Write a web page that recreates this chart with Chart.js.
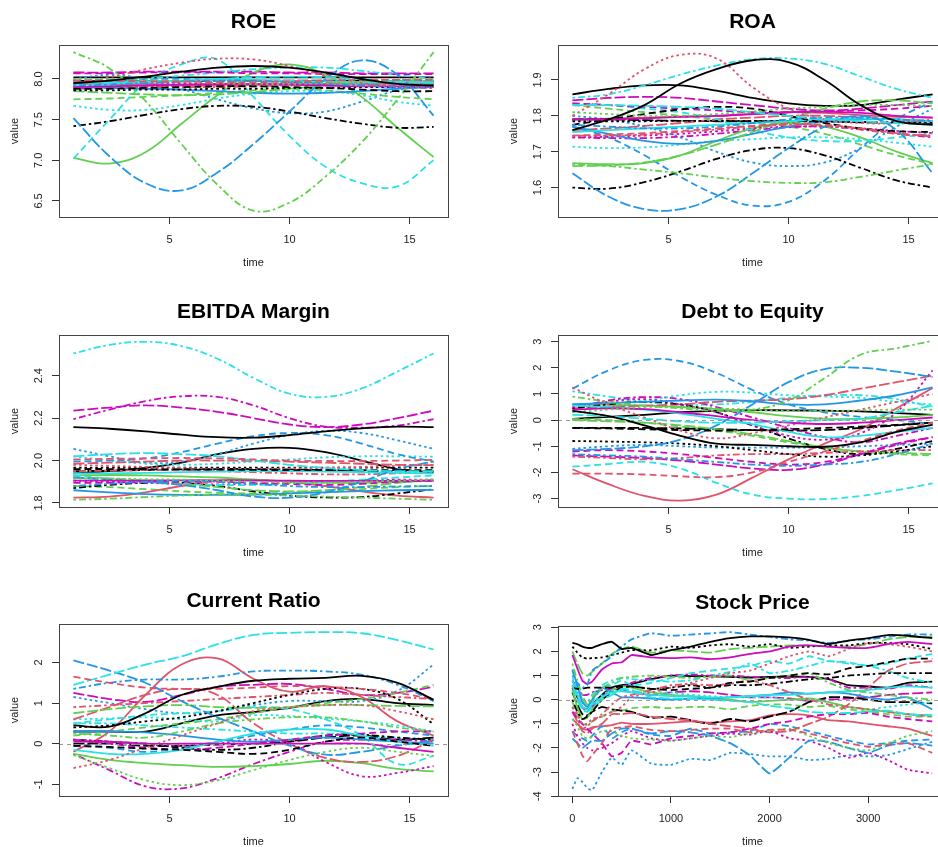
<!DOCTYPE html>
<html>
<head>
<meta charset="utf-8">
<script src="https://cdn.jsdelivr.net/npm/chart.js@4.4.1/dist/chart.umd.min.js"></script>
<style>
  html, body { margin: 0; padding: 0; background: #fff; }
  body { position: relative; width: 938px; height: 847px; overflow: hidden; }
  canvas { position: absolute; }
</style>
</head>
<body>
<canvas id="roe" width="469" height="282" style="left:0;top:0"></canvas>
<canvas id="roa" width="490" height="282" style="left:469px;top:0"></canvas>
<canvas id="ebitda" width="469" height="282" style="left:0;top:290px"></canvas>
<canvas id="debt" width="490" height="282" style="left:469px;top:290px"></canvas>
<canvas id="current" width="469" height="282" style="left:0;top:579px"></canvas>
<canvas id="stock" width="490" height="280" style="left:469px;top:581px"></canvas>
<script>
/* global Chart */

// time grids
const smoothTime = [1, 2.5, 4, 5.5, 7, 8.5, 10, 11.5, 13, 14.5, 16];
const stockTime = [0, 50, 100, 150, 200, 300, 400, 500, 600, 800, 1000, 1200, 1400, 1600, 1800, 2000, 2200, 2400, 2600, 2800, 3000, 3200, 3400, 3650];

// tick labels
const smoothXTicks = [5, 10, 15];
const stockXTicks = [0, 1000, 2000, 3000];
const roeYTicks = ["6.5", "7.0", "7.5", "8.0"];
const roaYTicks = ["1.6", "1.7", "1.8", "1.9"];
const ebitdaYTicks = ["1.8", "2.0", "2.2", "2.4"];
const debtYTicks = ["-3", "-2", "-1", "0", "1", "2", "3"];
const currentYTicks = ["-1", "0", "1", "2"];
const stockYTicks = ["-4", "-3", "-2", "-1", "0", "1", "2", "3"];

// one row per company, values at smoothTime
const roeValues = [
  [7.95, 7.98, 8.03, 8.09, 8.14, 8.16, 8.14, 8.08, 8.00, 7.94, 7.92],
  [7.98, 7.98, 7.97, 7.97, 7.96, 7.96, 7.97, 7.98, 7.99, 7.99, 7.99],
  [8.00, 8.00, 7.99, 7.97, 7.95, 7.94, 7.94, 7.95, 7.97, 7.99, 8.00],
  [7.92, 7.93, 7.95, 7.97, 7.98, 7.98, 7.96, 7.94, 7.92, 7.91, 7.92],
  [7.93, 7.94, 7.96, 7.98, 8.00, 8.02, 8.03, 8.02, 8.00, 7.97, 7.95],
  [7.90, 7.91, 7.92, 7.93, 7.94, 7.94, 7.93, 7.92, 7.91, 7.91, 7.92],
  [7.88, 7.88, 7.89, 7.90, 7.91, 7.91, 7.90, 7.89, 7.87, 7.85, 7.85],
  [7.95, 8.02, 8.12, 8.20, 8.25, 8.24, 8.16, 8.04, 7.95, 7.90, 7.90],
  [8.33, 8.13, 7.73, 7.20, 6.70, 6.38, 6.48, 6.80, 7.22, 7.75, 8.33],
  [7.52, 7.05, 6.72, 6.63, 6.85, 7.20, 7.60, 8.00, 8.23, 8.05, 7.55],
  [7.96, 7.96, 7.97, 7.98, 7.99, 7.99, 7.98, 7.97, 7.96, 7.96, 7.96],
  [8.07, 8.07, 8.08, 8.08, 8.08, 8.07, 8.07, 8.06, 8.06, 8.06, 8.06],
  [7.86, 7.86, 7.87, 7.87, 7.88, 7.88, 7.89, 7.89, 7.90, 7.90, 7.90],
  [7.91, 7.91, 7.90, 7.90, 7.90, 7.91, 7.92, 7.93, 7.93, 7.92, 7.91],
  [7.85, 7.83, 7.81, 7.80, 7.81, 7.84, 7.88, 7.92, 7.95, 7.97, 7.98],
  [7.90, 7.89, 7.88, 7.87, 7.85, 7.83, 7.82, 7.83, 7.85, 7.88, 7.90],
  [7.02, 7.50, 7.95, 8.18, 8.24, 7.78, 7.30, 6.92, 6.72, 6.68, 7.00],
  [7.97, 7.97, 7.96, 7.95, 7.94, 7.94, 7.95, 7.96, 7.97, 7.98, 7.98],
  [7.42, 7.48, 7.56, 7.63, 7.67, 7.66, 7.60, 7.52, 7.45, 7.40, 7.41],
  [7.93, 7.93, 7.92, 7.92, 7.92, 7.93, 7.94, 7.95, 7.95, 7.95, 7.94],
  [7.03, 6.96, 7.10, 7.45, 7.80, 8.08, 8.18, 8.05, 7.78, 7.40, 7.04],
  [7.98, 7.99, 8.00, 8.00, 7.99, 7.98, 7.97, 7.96, 7.96, 7.97, 7.98],
  [7.67, 7.62, 7.62, 7.68, 7.76, 7.82, 7.85, 7.85, 7.80, 7.72, 7.67],
  [7.88, 7.89, 7.90, 7.92, 7.93, 7.94, 7.94, 7.93, 7.92, 7.90, 7.89],
  [7.98, 7.97, 7.97, 7.97, 7.98, 7.98, 7.98, 7.98, 7.98, 7.97, 7.97],
  [7.94, 7.94, 7.94, 7.93, 7.93, 7.93, 7.93, 7.94, 7.94, 7.94, 7.94],
  [7.75, 7.76, 7.78, 7.80, 7.83, 7.86, 7.88, 7.86, 7.82, 7.78, 7.75],
  [8.00, 8.05, 8.00, 7.88, 7.75, 7.64, 7.58, 7.60, 7.72, 7.86, 7.92],
  [7.95, 7.97, 8.00, 8.04, 8.08, 8.12, 8.14, 8.14, 8.10, 8.05, 8.00],
  [8.08, 8.08, 8.09, 8.09, 8.09, 8.09, 8.08, 8.08, 8.07, 8.07, 8.07],
  [8.02, 8.02, 8.02, 8.02, 8.02, 8.02, 8.02, 8.02, 8.02, 8.02, 8.02],
];

const roaValues = [
  [1.760, 1.790, 1.830, 1.890, 1.930, 1.955, 1.950, 1.900, 1.830, 1.785, 1.775],
  [1.745, 1.748, 1.752, 1.758, 1.765, 1.772, 1.778, 1.775, 1.765, 1.752, 1.742],
  [1.810, 1.805, 1.800, 1.800, 1.805, 1.812, 1.820, 1.825, 1.830, 1.830, 1.828],
  [1.775, 1.770, 1.765, 1.765, 1.770, 1.780, 1.790, 1.795, 1.795, 1.790, 1.785],
  [1.830, 1.830, 1.828, 1.825, 1.820, 1.810, 1.800, 1.790, 1.785, 1.780, 1.775],
  [1.790, 1.790, 1.793, 1.797, 1.800, 1.805, 1.810, 1.812, 1.808, 1.800, 1.795],
  [1.775, 1.790, 1.805, 1.818, 1.825, 1.820, 1.800, 1.780, 1.765, 1.757, 1.755],
  [1.800, 1.860, 1.930, 1.970, 1.960, 1.880, 1.820, 1.790, 1.780, 1.780, 1.790],
  [1.665, 1.660, 1.650, 1.640, 1.628, 1.618, 1.613, 1.615, 1.630, 1.648, 1.665],
  [1.640, 1.575, 1.540, 1.540, 1.575, 1.640, 1.710, 1.770, 1.800, 1.760, 1.640],
  [1.755, 1.760, 1.765, 1.770, 1.775, 1.780, 1.785, 1.790, 1.792, 1.790, 1.785],
  [1.835, 1.830, 1.825, 1.820, 1.815, 1.810, 1.810, 1.812, 1.815, 1.820, 1.828],
  [1.785, 1.785, 1.785, 1.786, 1.786, 1.786, 1.785, 1.784, 1.783, 1.782, 1.782],
  [1.745, 1.745, 1.748, 1.755, 1.762, 1.770, 1.775, 1.772, 1.762, 1.750, 1.745],
  [1.660, 1.662, 1.670, 1.690, 1.720, 1.755, 1.790, 1.820, 1.840, 1.843, 1.835],
  [1.770, 1.750, 1.730, 1.722, 1.730, 1.750, 1.770, 1.785, 1.790, 1.790, 1.785],
  [1.835, 1.830, 1.820, 1.810, 1.790, 1.760, 1.740, 1.730, 1.730, 1.740, 1.750],
  [1.740, 1.742, 1.745, 1.750, 1.757, 1.765, 1.770, 1.770, 1.765, 1.758, 1.752],
  [1.600, 1.597, 1.615, 1.645, 1.680, 1.705, 1.710, 1.690, 1.655, 1.620, 1.600],
  [1.760, 1.765, 1.772, 1.780, 1.790, 1.795, 1.800, 1.800, 1.795, 1.790, 1.785],
  [1.668, 1.665, 1.668, 1.690, 1.730, 1.765, 1.780, 1.770, 1.740, 1.700, 1.668],
  [1.770, 1.740, 1.690, 1.630, 1.580, 1.550, 1.560, 1.620, 1.710, 1.790, 1.840],
  [1.714, 1.710, 1.712, 1.720, 1.730, 1.735, 1.740, 1.740, 1.735, 1.725, 1.714],
  [1.740, 1.738, 1.738, 1.742, 1.750, 1.760, 1.768, 1.770, 1.762, 1.750, 1.740],
  [1.790, 1.790, 1.788, 1.786, 1.785, 1.785, 1.785, 1.785, 1.782, 1.780, 1.778],
  [1.790, 1.792, 1.795, 1.798, 1.800, 1.805, 1.810, 1.808, 1.802, 1.797, 1.795],
  [1.830, 1.820, 1.810, 1.800, 1.790, 1.780, 1.770, 1.750, 1.720, 1.690, 1.665],
  [1.800, 1.790, 1.770, 1.740, 1.700, 1.670, 1.660, 1.670, 1.710, 1.770, 1.820],
  [1.850, 1.860, 1.885, 1.915, 1.940, 1.958, 1.960, 1.945, 1.910, 1.875, 1.850],
  [1.843, 1.850, 1.853, 1.850, 1.840, 1.830, 1.820, 1.815, 1.820, 1.830, 1.840],
  [1.860, 1.875, 1.885, 1.885, 1.870, 1.850, 1.835, 1.828, 1.830, 1.845, 1.860],
];

const ebitdaValues = [
  [2.158, 2.150, 2.138, 2.122, 2.110, 2.108, 2.120, 2.138, 2.152, 2.160, 2.158],
  [2.005, 2.008, 2.010, 2.012, 2.010, 2.005, 2.000, 1.998, 1.998, 2.000, 2.003],
  [1.915, 1.915, 1.912, 1.910, 1.905, 1.900, 1.895, 1.895, 1.900, 1.905, 1.910],
  [1.880, 1.890, 1.900, 1.905, 1.900, 1.890, 1.880, 1.875, 1.875, 1.878, 1.880],
  [2.020, 2.030, 2.035, 2.030, 2.020, 2.000, 1.980, 1.965, 1.955, 1.950, 1.950],
  [1.905, 1.905, 1.906, 1.907, 1.907, 1.906, 1.905, 1.904, 1.904, 1.905, 1.905],
  [1.960, 1.960, 1.959, 1.958, 1.957, 1.956, 1.955, 1.955, 1.955, 1.955, 1.955],
  [1.980, 1.975, 1.970, 1.965, 1.960, 1.960, 1.962, 1.965, 1.970, 1.975, 1.980],
  [1.815, 1.820, 1.828, 1.835, 1.840, 1.840, 1.835, 1.830, 1.825, 1.820, 1.815],
  [1.920, 1.910, 1.900, 1.885, 1.860, 1.830, 1.825, 1.850, 1.900, 1.960, 1.995],
  [1.940, 1.940, 1.942, 1.945, 1.948, 1.950, 1.950, 1.948, 1.945, 1.942, 1.940],
  [1.895, 1.895, 1.900, 1.900, 1.900, 1.895, 1.890, 1.885, 1.890, 1.900, 1.905],
  [1.967, 1.967, 1.967, 1.967, 1.967, 1.967, 1.967, 1.967, 1.967, 1.967, 1.967],
  [1.950, 1.952, 1.955, 1.955, 1.950, 1.945, 1.940, 1.935, 1.935, 1.940, 1.945],
  [1.920, 1.915, 1.905, 1.890, 1.875, 1.860, 1.855, 1.860, 1.875, 1.895, 1.910],
  [1.860, 1.850, 1.842, 1.838, 1.838, 1.840, 1.845, 1.850, 1.856, 1.860, 1.862],
  [1.930, 1.915, 1.900, 1.890, 1.885, 1.885, 1.890, 1.900, 1.910, 1.920, 1.930],
  [1.905, 1.900, 1.895, 1.890, 1.888, 1.890, 1.895, 1.900, 1.905, 1.910, 1.910],
  [1.870, 1.885, 1.895, 1.895, 1.880, 1.855, 1.835, 1.826, 1.828, 1.845, 1.865],
  [1.985, 1.990, 1.995, 2.000, 2.000, 1.998, 1.995, 1.990, 1.985, 1.980, 1.978],
  [1.930, 1.932, 1.930, 1.925, 1.920, 1.910, 1.900, 1.895, 1.895, 1.900, 1.905],
  [1.995, 2.000, 2.010, 2.040, 2.080, 2.115, 2.130, 2.120, 2.080, 2.030, 1.995],
  [2.020, 2.000, 1.985, 1.980, 1.985, 1.995, 2.005, 2.015, 2.020, 2.020, 2.018],
  [2.195, 2.240, 2.280, 2.303, 2.300, 2.260, 2.200, 2.160, 2.155, 2.165, 2.195],
  [1.950, 1.952, 1.955, 1.958, 1.960, 1.960, 1.958, 1.955, 1.952, 1.950, 1.950],
  [1.825, 1.830, 1.850, 1.880, 1.905, 1.910, 1.900, 1.880, 1.855, 1.835, 1.825],
  [1.880, 1.875, 1.865, 1.855, 1.848, 1.845, 1.848, 1.855, 1.865, 1.875, 1.880],
  [2.055, 2.020, 1.990, 1.995, 2.030, 2.080, 2.120, 2.140, 2.130, 2.095, 2.055],
  [2.505, 2.545, 2.560, 2.540, 2.480, 2.390, 2.315, 2.300, 2.340, 2.420, 2.505],
  [2.235, 2.250, 2.260, 2.250, 2.230, 2.200, 2.170, 2.158, 2.170, 2.200, 2.235],
  [1.940, 1.950, 1.965, 1.990, 2.030, 2.055, 2.060, 2.040, 2.000, 1.960, 1.945],
];

const debtValues = [
  [0.35, 0.15, -0.20, -0.60, -0.90, -0.95, -1.00, -1.02, -0.85, -0.45, -0.18],
  [-2.05, -2.05, -2.08, -2.15, -2.18, -2.00, -1.60, -1.20, -0.80, -0.40, -0.10],
  [0.30, 0.40, 0.50, 0.50, 0.45, 0.40, 0.35, 0.35, 0.37, 0.40, 0.40],
  [-1.30, -1.35, -1.40, -1.50, -1.60, -1.70, -1.75, -1.70, -1.60, -1.30, -0.90],
  [0.20, 0.15, 0.05, -0.05, -0.10, -0.10, -0.05, 0.00, 0.05, 0.30, 0.55],
  [0.40, 0.45, 0.42, 0.30, 0.15, 0.00, -0.10, -0.15, -0.10, 0.00, 0.10],
  [-0.30, -0.32, -0.35, -0.38, -0.40, -0.38, -0.35, -0.30, -0.25, -0.18, -0.10],
  [1.25, 0.60, 0.10, -0.40, -0.70, -0.50, -0.20, 0.10, 0.40, 0.70, 1.00],
  [0.90, 0.70, 0.55, 0.45, 0.35, 0.40, 0.75, 1.60, 2.50, 2.75, 3.03],
  [-1.15, -1.10, -1.00, -0.75, -0.20, 0.60, 1.45, 1.95, 2.00, 1.85, 1.65],
  [0.55, 0.50, 0.40, 0.25, 0.05, -0.15, -0.45, -0.65, -0.60, -0.45, -0.30],
  [-1.20, -1.15, -1.20, -1.30, -1.45, -1.60, -1.70, -1.60, -1.30, -0.95, -0.65],
  [-0.80, -0.82, -0.85, -0.90, -1.00, -1.15, -1.30, -1.40, -1.35, -1.20, -1.00],
  [-1.40, -1.45, -1.50, -1.45, -1.35, -1.30, -1.30, -1.25, -1.20, -1.15, -1.15],
  [0.00, -0.05, -0.10, -0.20, -0.35, -0.55, -0.80, -1.05, -1.20, -1.25, -1.30],
  [0.60, 0.65, 0.70, 0.75, 0.78, 0.72, 0.60, 0.60, 0.75, 0.95, 1.25],
  [-1.78, -1.68, -1.60, -1.85, -2.40, -2.85, -3.00, -3.02, -2.90, -2.68, -2.42],
  [0.50, 0.70, 0.80, 0.60, 0.30, -0.20, -0.60, -0.75, -0.50, 0.30, 1.90],
  [0.45, 0.60, 0.70, 0.60, 0.30, -0.20, -0.70, -1.10, -1.30, -1.10, -0.80],
  [0.45, 0.50, 0.55, 0.60, 0.70, 0.75, 0.80, 0.95, 1.20, 1.45, 1.70],
  [0.60, 0.58, 0.55, 0.50, 0.42, 0.30, 0.15, 0.05, 0.05, 0.10, 0.20],
  [1.20, 1.90, 2.30, 2.25, 1.80, 1.15, 0.60, 0.30, 0.12, 0.00, -0.15],
  [0.60, 0.65, 0.75, 0.95, 1.08, 1.05, 0.95, 0.90, 0.85, 0.70, 0.60],
  [0.45, 0.75, 0.88, 0.80, 0.50, 0.10, -0.30, -0.65, -0.85, -0.60, -0.30],
  [-0.30, -0.30, -0.30, -0.32, -0.35, -0.38, -0.40, -0.38, -0.30, -0.20, -0.10],
  [-1.88, -2.45, -2.90, -3.08, -2.85, -2.20, -1.50, -0.90, -0.35, 0.45, 1.23],
  [0.05, 0.00, -0.10, -0.25, -0.40, -0.60, -0.85, -1.05, -1.20, -1.30, -1.35],
  [-1.10, -1.00, -0.95, -1.00, -1.05, -1.05, -1.05, -1.05, -1.00, -0.95, -0.90],
  [1.10, 0.90, 0.70, 0.60, 0.60, 0.70, 0.85, 0.95, 0.95, 0.80, 0.50],
  [-1.35, -1.40, -1.45, -1.55, -1.70, -1.85, -1.90, -1.70, -1.30, -0.90, -0.65],
  [0.05, 0.12, 0.20, 0.30, 0.35, 0.38, 0.37, 0.36, 0.33, 0.27, 0.20],
];

const currentValues = [
  [0.45, 0.42, 0.75, 1.20, 1.40, 1.55, 1.60, 1.62, 1.67, 1.50, 1.08],
  [1.65, 1.50, 1.38, 1.35, 1.35, 1.38, 1.42, 1.40, 1.35, 1.25, 1.10],
  [-0.28, -0.60, -0.90, -1.02, -0.90, -0.65, -0.40, -0.20, -0.10, -0.20, -0.30],
  [1.35, 1.50, 1.58, 1.58, 1.65, 1.78, 1.80, 1.78, 1.70, 1.45, 1.05],
  [1.45, 1.70, 1.95, 2.15, 2.45, 2.68, 2.73, 2.75, 2.72, 2.55, 2.32],
  [0.05, 0.05, 0.00, 0.00, 0.00, 0.00, 0.00, 0.00, 0.00, -0.10, -0.20],
  [-0.05, -0.08, -0.12, -0.15, -0.20, -0.25, -0.15, 0.05, 0.15, 0.05, -0.05],
  [-0.60, -0.40, -0.10, 0.20, 0.50, 0.80, 0.90, 0.95, 0.95, 0.80, 0.60],
  [0.25, 0.20, 0.15, 0.30, 0.50, 0.60, 0.65, 0.65, 0.55, 0.40, 0.30],
  [2.05, 1.80, 1.50, 1.05, 0.65, 0.30, -0.05, -0.27, -0.20, -0.05, 0.08],
  [-0.15, -0.25, -0.25, -0.15, 0.05, 0.25, 0.35, 0.35, 0.20, 0.05, -0.05],
  [0.10, 0.00, -0.10, -0.15, -0.10, 0.00, 0.10, 0.20, 0.25, 0.30, 0.30],
  [0.40, 0.45, 0.55, 0.65, 0.80, 1.00, 1.20, 1.35, 1.35, 1.10, 0.48],
  [0.90, 0.95, 1.00, 1.05, 1.10, 1.15, 1.20, 1.25, 1.20, 1.15, 1.10],
  [0.75, 0.85, 0.92, 0.95, 0.90, 0.88, 0.90, 0.95, 0.95, 0.93, 0.92],
  [0.30, 0.30, 0.28, 0.20, 0.10, 0.05, 0.10, 0.15, 0.10, 0.05, 0.00],
  [0.50, 0.60, 0.70, 0.75, 0.80, 0.90, 0.85, 0.60, 0.20, -0.50, -0.30],
  [0.10, 0.05, 0.00, -0.05, 0.00, 0.10, 0.00, -0.45, -0.80, -0.72, -0.55],
  [0.10, 0.05, 0.00, -0.10, -0.15, -0.10, 0.05, 0.20, 0.22, 0.15, 0.10],
  [0.60, 0.90, 1.20, 1.35, 1.20, 0.50, 0.00, -0.35, -0.45, -0.30, 0.10],
  [-0.25, -0.40, -0.48, -0.53, -0.57, -0.55, -0.50, -0.42, -0.48, -0.62, -0.68],
  [-0.05, -0.10, -0.20, -0.10, 0.05, 0.20, 0.35, 0.45, 0.40, 0.30, 0.20],
  [0.60, 0.62, 0.65, 0.60, 0.55, 0.70, 0.68, 0.62, 0.55, 0.45, 0.30],
  [-0.25, -0.65, -1.05, -1.10, -0.85, -0.50, -0.20, 0.05, 0.10, 0.10, 0.05],
  [0.00, 0.00, -0.05, -0.05, -0.02, 0.00, 0.05, 0.15, 0.20, 0.10, 0.15],
  [-0.20, 0.30, 1.20, 1.95, 2.10, 1.60, 1.28, 1.42, 1.15, 0.55, 0.20],
  [0.20, 0.30, 0.40, 0.50, 0.60, 0.75, 0.90, 1.00, 1.10, 1.25, 1.45],
  [1.15, 1.00, 0.85, 0.75, 0.80, 0.95, 1.05, 1.05, 1.05, 1.30, 1.95],
  [0.50, 0.50, 0.45, 0.40, 0.35, 0.30, 0.25, 0.25, 0.20, 0.15, 0.10],
  [1.25, 1.10, 1.03, 1.20, 1.40, 1.45, 1.47, 1.35, 1.20, 1.25, 1.40],
  [0.30, 0.30, 0.30, 0.50, 0.70, 0.78, 0.88, 1.05, 1.10, 1.00, 0.95],
];

// values at stockTime
const stockValues = [
  [2.35, 2.30, 2.20, 2.15, 2.15, 2.30, 2.40, 2.10, 2.15, 1.85, 2.05, 2.20, 2.40, 2.55, 2.62, 2.62, 2.58, 2.48, 2.30, 2.45, 2.55, 2.68, 2.65, 2.55],
  [-1.30, -1.80, -2.30, -2.55, -2.30, -1.80, -1.20, -1.15, -1.10, -1.25, -1.30, -1.25, -1.20, -1.20, -1.35, -1.25, -1.25, -1.40, -1.60, -1.80, -1.95, -1.85, -1.80, -2.20],
  [-0.80, -1.10, -1.50, -1.60, -1.55, -1.30, -1.30, -1.50, -1.60, -1.65, -1.70, -1.60, -1.50, -1.55, -1.40, -1.30, -1.20, -1.50, -1.80, -2.00, -2.10, -1.80, -1.50, -1.30],
  [1.00, 0.70, 0.50, 0.60, 1.20, 1.50, 1.80, 2.20, 2.50, 2.75, 2.65, 2.70, 2.75, 2.80, 2.70, 2.60, 2.50, 2.45, 2.35, 2.45, 2.50, 2.60, 2.70, 2.70],
  [0.60, 0.00, -0.40, -0.50, -0.30, 0.00, 0.20, 0.45, 0.40, 0.10, 0.05, 0.05, 0.00, -0.05, -0.10, -0.25, -0.35, -0.50, -0.55, -0.55, -0.50, -0.45, -0.60, -0.65],
  [1.85, 1.30, 0.80, 0.65, 0.75, 1.25, 1.50, 1.55, 1.85, 1.75, 1.72, 1.75, 1.68, 1.75, 1.90, 2.00, 2.20, 2.25, 2.20, 2.15, 2.15, 2.30, 2.40, 2.30],
  [0.50, 0.45, 0.45, 0.50, 0.50, 0.50, 0.50, 0.55, 0.55, 0.45, 0.40, 0.45, 0.50, 0.70, 0.75, 0.90, 1.00, 1.10, 1.05, 1.30, 1.40, 1.55, 1.70, 1.70],
  [-0.30, -0.60, -1.00, -1.00, -0.80, -0.70, -0.50, -0.30, 0.10, 0.30, 0.50, 0.70, 0.90, 1.10, 1.20, 1.50, 1.80, 2.00, 1.80, 2.10, 2.35, 2.30, 2.20, 2.00],
  [1.50, 0.80, 0.20, -0.20, 0.10, 0.50, 0.70, 0.90, 0.95, 1.00, 0.95, 0.90, 0.95, 1.00, 0.80, 0.90, 1.00, 1.10, 0.70, 0.40, 0.30, 0.20, 0.10, 0.00],
  [-1.60, -1.80, -2.00, -1.85, -1.70, -1.70, -1.40, -1.20, -1.20, -1.40, -1.30, -1.35, -1.50, -1.80, -2.30, -3.05, -2.40, -1.70, -1.75, -2.00, -2.20, -1.90, -1.80, -1.90],
  [0.80, 0.20, -0.30, -0.40, -0.20, 0.10, 0.30, 0.35, 0.30, 0.20, 0.15, 0.15, 0.10, 0.10, 0.15, 0.20, 0.20, 0.25, 0.30, 0.35, 0.40, 0.50, 0.55, 0.50],
  [-0.50, -0.80, -1.00, -1.20, -1.40, -1.80, -2.35, -2.20, -1.70, -1.85, -1.60, -1.50, -1.40, -1.35, -1.20, -1.00, -0.90, -0.70, -0.60, -0.60, -0.55, -0.70, -0.80, -0.90],
  [2.20, 1.95, 1.75, 1.70, 1.72, 1.75, 1.85, 1.95, 2.05, 2.05, 2.20, 2.15, 2.25, 2.30, 2.20, 2.30, 2.15, 2.20, 2.25, 2.25, 2.35, 2.35, 2.30, 2.10],
  [-0.30, -0.80, -1.20, -1.10, -0.90, -0.60, -0.20, 0.10, 0.20, 0.40, 0.60, 0.65, 0.60, 0.65, 0.80, 0.60, 0.30, 0.00, -0.20, -0.30, -0.40, -0.50, -0.60, -0.70],
  [2.00, 1.50, 1.10, 1.00, 1.15, 1.50, 1.90, 2.10, 2.20, 1.95, 2.05, 2.00, 1.95, 2.10, 2.15, 2.20, 2.25, 2.25, 2.20, 2.20, 2.30, 2.50, 2.60, 2.60],
  [1.25, 0.60, -0.10, -0.30, 0.00, 0.50, 0.30, 0.10, 0.10, 0.05, 0.00, 0.05, 0.05, 0.10, 0.15, 0.20, 0.30, 0.25, 0.30, 0.25, 0.10, 0.00, 0.10, -0.40],
  [1.20, 0.60, 0.00, -0.30, -0.10, 0.50, 0.60, 0.80, 0.60, 0.70, 0.90, 1.10, 1.20, 1.30, 1.40, 1.60, 1.50, 1.80, 1.60, 1.55, 1.40, 1.50, 1.70, 1.90],
  [-1.00, -1.50, -1.80, -2.00, -2.10, -2.00, -1.80, -1.50, -1.30, -1.60, -1.70, -1.60, -1.50, -1.40, -1.45, -1.30, -1.60, -1.70, -2.00, -2.40, -2.20, -2.50, -2.90, -3.05],
  [0.00, -0.50, -0.80, -0.70, -0.50, 0.00, 0.30, 0.50, 0.55, 0.45, 0.50, 0.60, 0.50, 0.60, 0.60, 0.65, 0.75, 0.85, 0.90, 1.00, 1.05, 1.10, 1.10, 1.10],
  [-0.50, -0.90, -1.30, -1.40, -1.20, -1.00, -0.60, -0.60, -0.55, -0.70, -0.80, -0.85, -1.00, -1.10, -1.20, -1.35, -1.30, -1.00, -0.70, -0.20, 0.50, 1.20, 1.50, 1.60],
  [0.40, -0.30, -0.80, -0.75, -0.40, 0.00, 0.40, 0.55, 0.50, 0.30, 0.20, 0.15, 0.05, 0.00, -0.10, -0.05, 0.00, 0.05, -0.10, -0.30, -0.40, -0.50, -0.60, -0.65],
  [-1.30, -1.50, -1.60, -1.70, -1.50, -1.10, -1.60, -1.35, -1.20, -1.45, -1.50, -1.20, -1.40, -1.35, -1.30, -1.00, -1.10, -1.30, -1.50, -1.70, -1.85, -1.80, -1.70, -1.65],
  [0.50, 0.30, 0.00, -0.20, -0.10, 0.20, 0.40, 0.40, 0.35, 0.30, 0.30, 0.20, 0.15, 0.10, 0.10, 0.10, 0.00, 0.00, -0.10, -0.30, -0.40, -0.30, -0.20, -0.10],
  [0.60, 0.20, -0.30, -0.50, -0.30, 0.10, 0.40, 0.50, 0.70, 0.90, 1.00, 1.05, 1.00, 1.00, 0.95, 0.90, 0.90, 0.95, 0.85, 0.50, 0.50, 0.45, 0.60, 0.50],
  [0.30, -0.20, -0.60, -0.65, -0.50, -0.30, -0.40, -0.45, -0.50, -0.75, -0.70, -0.85, -1.00, -0.80, -0.90, -0.70, -0.50, -0.10, 0.10, 0.10, 0.00, -0.10, -0.10, -0.15],
  [-0.80, -1.00, -1.20, -1.25, -1.15, -1.10, -1.05, -0.95, -1.00, -1.00, -0.95, -0.90, -0.95, -0.90, -0.85, -0.65, -0.60, -0.65, -0.85, -0.90, -1.00, -1.10, -1.20, -1.50],
  [-0.10, -0.60, -1.00, -1.05, -0.90, -0.70, -0.50, -0.45, -0.35, -0.30, -0.35, -0.30, -0.30, -0.40, -0.25, -0.20, -0.20, -0.30, -0.25, -0.40, -0.50, -0.60, -0.70, -0.70],
  [-3.70, -3.25, -3.40, -3.65, -3.75, -3.00, -2.40, -2.70, -2.10, -2.65, -2.70, -2.45, -2.50, -2.20, -2.25, -2.35, -2.35, -2.50, -2.45, -2.30, -2.35, -2.30, -2.05, -1.75],
  [0.90, 0.50, 0.00, -0.10, 0.20, 0.60, 0.80, 0.90, 0.85, 0.80, 0.75, 0.80, 1.00, 1.15, 1.50, 1.10, 1.20, 1.40, 1.60, 1.50, 1.40, 1.20, 0.90, 0.70],
  [0.80, 0.50, 0.20, 0.20, 0.30, 0.40, 0.45, 0.40, 0.30, 0.20, 0.30, 0.35, 0.30, 0.20, 0.10, 0.10, 0.05, -0.05, 0.00, 0.05, 0.10, 0.20, 0.25, 0.30],
  [0.50, 0.10, -0.30, -0.40, -0.20, 0.20, 0.50, 0.60, 0.65, 0.85, 1.00, 0.98, 0.97, 0.95, 0.92, 0.95, 0.95, 0.95, 0.85, 0.60, 0.55, 0.50, 0.70, 0.75],
];

// R matplot style cycle: col = 1:6, lty = 1:5
const lineColors = ["#000000", "#DF536B", "#61D04F", "#2297E6", "#28E2E5", "#CD0BBC"];
const lineDashes = [[], [7, 4], [2.5, 3], [2.5, 3, 7, 3], [11, 3]];

const FONT = "'Liberation Sans', Arial, Helvetica, sans-serif";
Chart.defaults.font.family = FONT;
Chart.defaults.color = "#222";

// box, rotated y labels and the dashed zero line
const panelDecor = {
  id: "panelDecor",
  afterDatasetsDraw(chart, args, opts) {
    if (!opts.zeroLine) return;
    const { ctx, chartArea: a } = chart;
    const y0 = Math.round(chart.scales.y.getPixelForValue(0)) + 0.5;
    ctx.save();
    ctx.strokeStyle = "#999";
    ctx.lineWidth = 1;
    ctx.setLineDash([4, 4]);
    ctx.beginPath();
    ctx.moveTo(a.left, y0);
    ctx.lineTo(a.right, y0);
    ctx.stroke();
    ctx.restore();
  },
  afterDraw(chart, args, opts) {
    const { ctx, chartArea: a } = chart;
    const ys = chart.scales.y;
    ctx.save();
    ctx.strokeStyle = "#444";
    ctx.lineWidth = 1;
    ctx.strokeRect(Math.round(a.left) + 0.5, Math.round(a.top) + 0.5, Math.round(a.width), Math.round(a.height));
    ctx.fillStyle = "#222";
    ctx.font = `11px ${FONT}`;
    ctx.textAlign = "center";
    ctx.textBaseline = "middle";
    for (const lab of opts.yLabels || []) {
      ctx.save();
      ctx.translate(a.left - 20, ys.getPixelForValue(parseFloat(lab)));
      ctx.rotate(-Math.PI / 2);
      ctx.fillText(lab, 0, 0);
      ctx.restore();
    }
    ctx.restore();
  },
};

function toDatasets(times, rows, tension) {
  return rows.map((vals, i) => ({
    data: vals.map((v, k) => ({ x: times[k], y: v })),
    borderColor: lineColors[i % 6],
    borderDash: lineDashes[i % 5],
    borderWidth: 1.8,
    pointRadius: 0,
    fill: false,
    tension: tension,
  }));
}

function makePanel(id, p) {
  const axisGrid = { display: true, drawOnChartArea: false, drawTicks: true, tickLength: 7, color: "#333", lineWidth: 1 };
  return new Chart(document.getElementById(id), {
    type: "line",
    data: { datasets: toDatasets(p.times, p.rows, p.tension) },
    options: {
      responsive: false,
      animation: false,
      layout: { autoPadding: false, padding: { left: p.padLeft, right: p.padRight, top: 0, bottom: 0 } },
      plugins: {
        legend: { display: false },
        tooltip: { enabled: false },
        title: {
          display: true,
          text: p.title,
          fullSize: false,
          color: "#000",
          font: { size: 21, weight: "bold", lineHeight: "24px" },
          padding: { top: 10, bottom: 11 },
        },
        panelDecor: { yLabels: p.yTicks, zeroLine: p.zeroLine },
      },
      scales: {
        x: {
          type: "linear",
          min: p.xMin,
          max: p.xMax,
          afterBuildTicks: (s) => { s.ticks = p.xTicks.map((v) => ({ value: v })); },
          afterFit: (s) => { s.height = 65; },
          grid: axisGrid,
          border: { display: false },
          ticks: { font: { size: 11 }, color: "#222", padding: 9, maxRotation: 0, autoSkip: false, callback: (v) => String(v) },
          title: { display: true, text: "time", font: { size: 11 }, color: "#222", padding: { top: 0, bottom: 12 } },
        },
        y: {
          type: "linear",
          min: p.yMin,
          max: p.yMax,
          afterBuildTicks: (s) => { s.ticks = p.yTicks.map((v) => ({ value: parseFloat(v) })); },
          afterFit: (s) => { s.width = 59; },
          grid: axisGrid,
          border: { display: false },
          ticks: { display: false },
          title: { display: true, text: "value", font: { size: 11 }, color: "#222", padding: { top: 8, bottom: 0 } },
        },
      },
    },
    plugins: [panelDecor],
  });
}

const leftSide = { padLeft: 0, padRight: 21 };
const rightSide = { padLeft: 30, padRight: 12 };
const smoothX = { times: smoothTime, xMin: 0.4, xMax: 16.6, xTicks: smoothXTicks, tension: 0.4 };

makePanel("roe", { ...leftSide, ...smoothX, title: "ROE", rows: roeValues, yMin: 6.303, yMax: 8.418, yTicks: roeYTicks, zeroLine: false });
makePanel("roa", { ...rightSide, ...smoothX, title: "ROA", rows: roaValues, yMin: 1.518, yMax: 1.9975, yTicks: roaYTicks, zeroLine: false });
makePanel("ebitda", { ...leftSide, ...smoothX, title: "EBITDA Margin", rows: ebitdaValues, yMin: 1.781, yMax: 2.592, yTicks: ebitdaYTicks, zeroLine: false });
makePanel("debt", { ...rightSide, ...smoothX, title: "Debt to Equity", rows: debtValues, yMin: -3.323, yMax: 3.254, yTicks: debtYTicks, zeroLine: true });
makePanel("current", { ...leftSide, ...smoothX, title: "Current Ratio", rows: currentValues, yMin: -1.288, yMax: 2.948, yTicks: currentYTicks, zeroLine: true });
makePanel("stock", {
  ...rightSide, title: "Stock Price", times: stockTime, rows: stockValues, tension: 0.15,
  xMin: -146, xMax: 3800, xTicks: stockXTicks, yMin: -3.99, yMax: 3.054, yTicks: stockYTicks, zeroLine: true,
});
</script>
</body>
</html>
